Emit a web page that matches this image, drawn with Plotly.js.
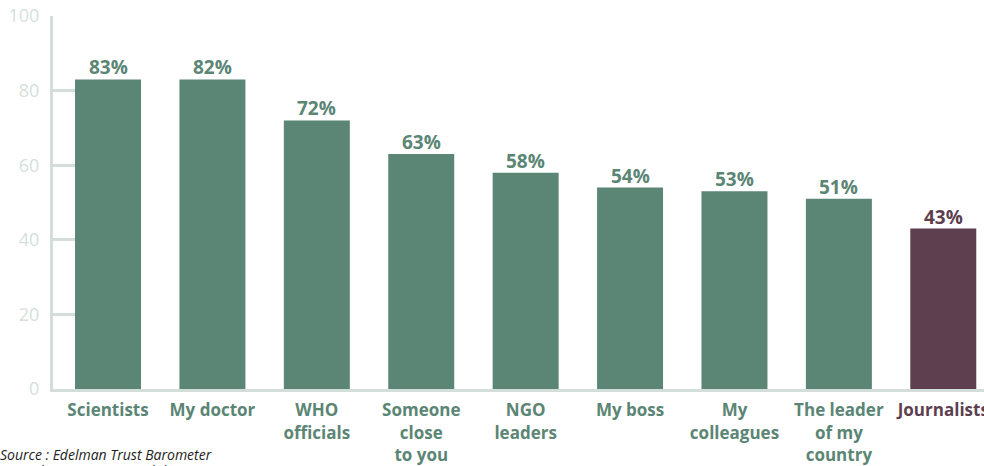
<!DOCTYPE html>
<html>
<head>
<meta charset="utf-8">
<script src="https://cdn.plot.ly/plotly-3.0.1.min.js"></script>
<style>html,body{margin:0;padding:0;background:#fff;}#chart{width:984px;height:466px;}</style>
</head>
<body>
<div id="chart"></div>
<script>
const categories = ["Scientists", "My doctor", "WHO<br>officials", "Someone<br>close<br>to you", "NGO<br>leaders", "My boss", "My<br>colleagues", "The leader<br>of my<br>country", "Journalists"];
const barValues = [83, 83, 72, 63, 58, 54, 53, 51, 43];
const valueLabels = ["83%", "82%", "72%", "63%", "58%", "54%", "53%", "51%", "43%"];
const yTicks = [0, 20, 40, 60, 80, 100];
const sourceLines = ["Source : Edelman Trust Barometer", "Special Report: Trust and the Coronavirus"];

const GREEN = "#5b8574";
const PURPLE = "#5d3f4f";
const AXIS = "#d3ddd9";
const colors = categories.map((c, i) => i === categories.length - 1 ? PURPLE : GREEN);
const idx = categories.map((c, i) => i);

const trace = {
  type: "bar",
  x: idx,
  y: barValues,
  width: 0.632,
  marker: {color: colors},
  hoverinfo: "skip"
};

const valueAnnotations = idx.map(i => ({
  x: i, y: barValues[i], xref: "x", yref: "y",
  text: valueLabels[i], showarrow: false,
  xanchor: "center", yanchor: "bottom", yshift: -3,
  font: {family: "Open Sans", size: 19, weight: "bold", color: colors[i]}
}));

const PLOT_H = 373, PLOT_W = 931;
const sourceAnnotations = sourceLines.map((s, k) => ({
  xref: "paper", yref: "paper",
  x: -55 / PLOT_W, y: -(443 + k * 16 - 389) / PLOT_H,
  xanchor: "left", yanchor: "top", align: "left",
  showarrow: false, text: s,
  font: {family: "Open Sans", size: 14, style: "italic", color: "#222"}
}));

const layout = {
  width: 984, height: 466,
  margin: {l: 53, r: 0, t: 16, b: 77},
  paper_bgcolor: "#fff", plot_bgcolor: "#fff",
  showlegend: false,
  bargap: 0.368,
  xaxis: {
    range: [-0.527, 8.39],
    tickmode: "array",
    tickvals: idx,
    ticktext: categories.map((c, i) => '<span style="color:' + colors[i] + '">' + c + '</span>'),
    tickfont: {family: "Open Sans", size: 17, weight: "bold", color: GREEN},
    ticklabeloverflow: "allow",
    showline: true, linecolor: AXIS, linewidth: 3,
    ticks: "", showgrid: false, zeroline: false,
    ticklabelstandoff: 4,
    fixedrange: true
  },
  yaxis: {
    range: [0, 100],
    tickmode: "array",
    tickvals: yTicks,
    ticktext: yTicks.map(String),
    tickfont: {family: "Open Sans", size: 18, color: "#d5dfdb"},
    showline: true, linecolor: AXIS, linewidth: 3,
    ticks: "inside", ticklen: 22, tickwidth: 3, tickcolor: AXIS,
    showgrid: false, zeroline: false,
    ticklabelstandoff: 7,
    fixedrange: true
  },
  annotations: valueAnnotations.concat(sourceAnnotations)
};

Plotly.newPlot("chart", [trace], layout, {displayModeBar: false, staticPlot: true});
</script>
</body>
</html>
